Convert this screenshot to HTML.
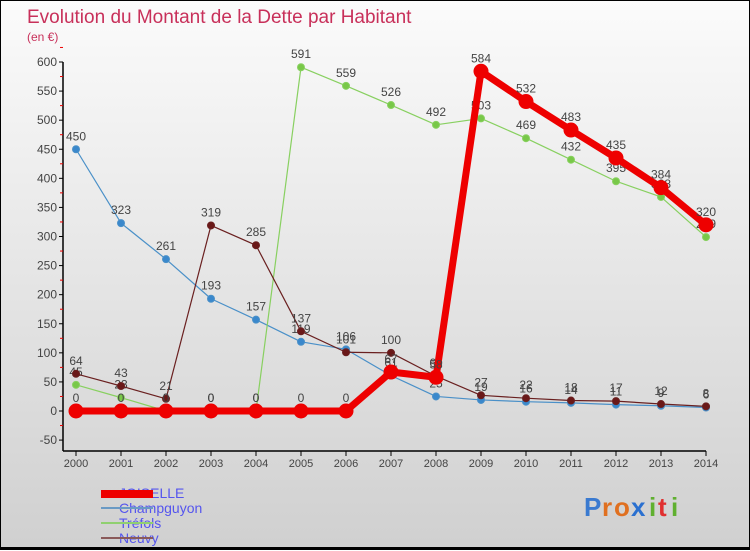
<!DOCTYPE html>
<html><head><meta charset="utf-8"><style>
html,body{margin:0;padding:0;}
body{width:750px;height:550px;overflow:hidden;font-family:"Liberation Sans",sans-serif;}
#wrap{position:relative;width:748px;height:546px;border:1px solid #000;border-bottom:3px solid #000;background:linear-gradient(#fbfbfb,#d0d0d0);}
svg{position:absolute;left:0;top:0;}
</style></head><body>
<div id="wrap">
<svg id="chart" width="750" height="550">
<text x="26" y="22" font-size="19" fill="#c8305a">Evolution du Montant de la Dette par Habitant</text>
<text x="26" y="40" font-size="12" fill="#c8305a">(en €)</text>
<text x="118" y="497" font-size="14" fill="#5555ee">JOISELLE</text>
<text x="118" y="512" font-size="14" fill="#5555ee">Champguyon</text>
<text x="118" y="527" font-size="14" fill="#5555ee">Tréfols</text>
<text x="118" y="542" font-size="14" fill="#5555ee">Neuvy</text>
<rect x="100" y="489" width="52" height="8" fill="#ee0000"/>
<rect x="100" y="506" width="52" height="2" fill="#6a9ac4"/>
<rect x="100" y="521" width="52" height="2" fill="#90d070"/>
<rect x="100" y="536" width="52" height="2" fill="#8a5a5a"/>
<g font-size="26" font-weight="bold">
<text x="583" y="515" fill="#3a7ad0">P</text><text x="601" y="515" fill="#e07020">r</text><text x="613" y="515" fill="#e07020">o</text><text x="630" y="515" fill="#2a70d0">x</text><text x="648" y="515" fill="#60b030">i</text><text x="657" y="515" fill="#e03030">t</text><text x="670" y="515" fill="#60b030">i</text>
</g>
</svg>
</div>
<script>
const years=[2000,2001,2002,2003,2004,2005,2006,2007,2008,2009,2010,2011,2012,2013,2014];
const joiselle=[0,0,0,0,0,0,0,67,58,584,532,483,435,384,320];
const champguyon=[450,323,261,193,157,119,106,61,25,19,16,14,11,9,6];
const trefols=[45,23,0,0,0,591,559,526,492,503,469,432,395,368,299];
const neuvy=[64,43,21,319,285,137,101,100,60,27,22,18,17,12,8];
const yTicks=[-50,0,50,100,150,200,250,300,350,400,450,500,550,600];
const NS="http://www.w3.org/2000/svg";
const svg=document.getElementById('chart');
const x=i=>75+i*45;
const y=v=>410-v*(349/600);
function mk(tag,attrs,parent){const e=document.createElementNS(NS,tag);for(const k in attrs)e.setAttribute(k,attrs[k]);(parent||svg).appendChild(e);return e;}
const ax=mk('g',{});


mk('line',{x1:62,y1:y(600),x2:62,y2:450,stroke:'#000','stroke-width':1.5},ax);
mk('line',{x1:62,y1:450,x2:x(14),y2:450,stroke:'#000','stroke-width':1.5},ax);
yTicks.forEach(t=>{
 mk('line',{x1:58,y1:y(t),x2:62,y2:y(t),stroke:'#000'},ax);
 mk('line',{x1:59,y1:y(t+25),x2:62,y2:y(t+25),stroke:'#e00'},ax);
 const tx=mk('text',{x:56,y:y(t)+4,'text-anchor':'end','font-size':12,fill:'#444'},ax);
 
 
 tx.textContent=t;
});
years.forEach((yr,i)=>{
 mk('line',{x1:x(i),y1:450,x2:x(i),y2:455,stroke:'#000'},ax);
 const tx=mk('text',{x:x(i),y:466,'text-anchor':'middle','font-size':11,fill:'#444'},ax);
 
 
 tx.textContent=yr;
});
function series(name,data,color,w,r,fill){
 const g=mk('g',{});
 
 
 const pl=mk('polyline',{points:data.map((v,i)=>x(i)+','+y(v)).join(' '),fill:'none',stroke:color,'stroke-width':w,'stroke-linejoin':'round'},g);
 
 
 data.forEach((v,i)=>{
  const c=mk('circle',{cx:x(i),cy:y(v),r:r,fill:fill,stroke:color,'stroke-width':1},g);
  
  
  const t=mk('text',{x:x(i),y:y(v)-9,'text-anchor':'middle','font-size':12,fill:'#444'},g);
  
  
  t.textContent=v;
 });
}
series('champguyon',champguyon,'#4a90c8',1.2,3.5,'#3a88cc');
series('trefols',trefols,'#88d060',1.2,3.5,'#78c848');
series('neuvy',neuvy,'#6a2020',1.2,3.5,'#6a1818');
series('joiselle',joiselle,'#ee0000',7,7,'#ee0000');
</script>
</body></html>
